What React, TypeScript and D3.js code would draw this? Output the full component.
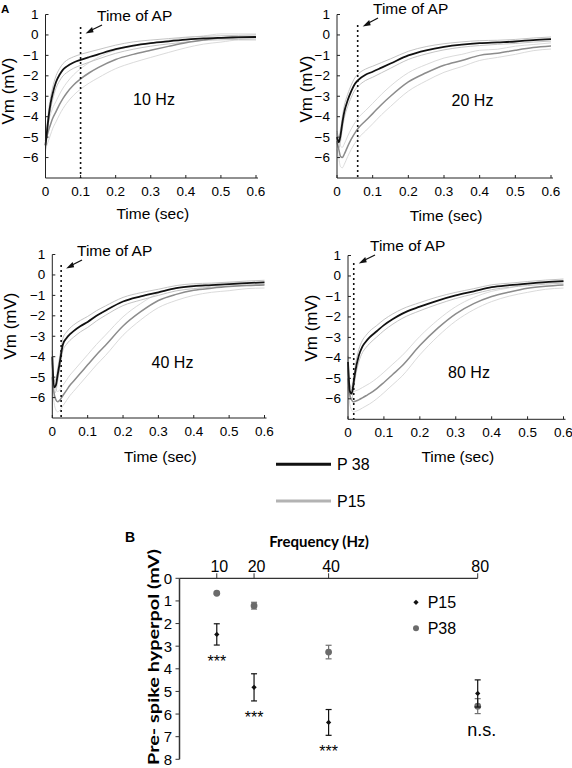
import React from "react";
import * as d3 from "d3";

// ---------- Panel A data ----------
const time = [0, 0.005, 0.01, 0.015, 0.02, 0.03, 0.04, 0.05, 0.06, 0.08, 0.1, 0.125, 0.15, 0.2, 0.25, 0.3, 0.35, 0.4, 0.45, 0.5, 0.55, 0.6];

const p38_10Hz = [-5.4, -4.6, -3.85, -3.3, -2.9, -2.3, -1.95, -1.7, -1.55, -1.35, -1.22, -1.08, -0.95, -0.7, -0.52, -0.4, -0.31, -0.23, -0.17, -0.14, -0.12, -0.1];
const p15_10Hz = [-5.2, -4.9, -4.6, -4.35, -4.1, -3.75, -3.4, -3.1, -2.85, -2.45, -2.15, -1.85, -1.6, -1.2, -0.95, -0.75, -0.56, -0.38, -0.25, -0.15, -0.1, -0.1];

const p38_20Hz = [-5.0, -5.25, -4.9, -4.3, -3.8, -3.2, -2.75, -2.4, -2.2, -1.95, -1.8, -1.6, -1.4, -1.0, -0.75, -0.58, -0.47, -0.4, -0.36, -0.32, -0.25, -0.2];
const p15_20Hz = [-5.2, -5.6, -5.95, -6.0, -5.85, -5.45, -5.1, -4.8, -4.55, -4.2, -3.85, -3.4, -3.0, -2.3, -1.85, -1.48, -1.25, -1.0, -0.9, -0.75, -0.62, -0.54];

const p38_40Hz = [-4.0, -5.5, -5.4, -4.9, -4.4, -3.4, -3.1, -2.9, -2.75, -2.5, -2.3, -2.0, -1.75, -1.3, -1.05, -0.85, -0.65, -0.55, -0.5, -0.45, -0.4, -0.36];
const p15_40Hz = [-5.0, -5.8, -6.1, -6.2, -6.15, -5.9, -5.65, -5.4, -5.2, -4.8, -4.4, -3.9, -3.45, -2.5, -1.8, -1.25, -0.95, -0.75, -0.65, -0.57, -0.52, -0.49];

const p38_80Hz = [-4.2, -5.6, -5.75, -5.3, -4.7, -3.9, -3.45, -3.2, -3.0, -2.7, -2.4, -2.1, -1.85, -1.5, -1.2, -0.95, -0.75, -0.55, -0.45, -0.37, -0.3, -0.25];
const p15_80Hz = [-5.0, -5.8, -6.05, -6.15, -6.12, -6.05, -5.95, -5.85, -5.75, -5.5, -5.2, -4.8, -4.4, -3.4, -2.55, -1.85, -1.35, -1.0, -0.78, -0.6, -0.5, -0.44];

const p38Sem = [0.3, 0.3, 0.3, 0.3, 0.3, 0.3, 0.3, 0.3, 0.3, 0.28, 0.27, 0.25, 0.23, 0.2, 0.18, 0.15, 0.13, 0.12, 0.1, 0.1, 0.1, 0.1];
const p15Sem = [0.4, 0.45, 0.5, 0.5, 0.5, 0.5, 0.5, 0.5, 0.5, 0.5, 0.5, 0.5, 0.5, 0.45, 0.4, 0.35, 0.3, 0.25, 0.2, 0.2, 0.15, 0.15];

const apTimes = [0.1, 0.058, 0.025, 0.016];
const freqLabels = ["10 Hz", "20 Hz", "40 Hz", "80 Hz"];
const timeTicks = [0, 0.1, 0.2, 0.3, 0.4, 0.5, 0.6];
const vmTicks = [1, 0, -1, -2, -3, -4, -5, -6];

// ---------- Panel B data ----------
const freqs = [10, 20, 40, 80];
const p15Hyper = [2.48, 4.82, 6.37, 5.09];
const p15Err = [0.47, 0.6, 0.57, 0.6];
const p38Hyper = [0.66, 1.21, 3.26, 5.65];
const p38Err = [0.05, 0.15, 0.3, 0.33];
const sigLabels = ["***", "***", "***", "n.s."];
const hyperTicks = [0, 1, 2, 3, 4, 5, 6, 7, 8];

const panelsData = [
  { p38: p38_10Hz, p15: p15_10Hz, ap: apTimes[0], label: freqLabels[0] },
  { p38: p38_20Hz, p15: p15_20Hz, ap: apTimes[1], label: freqLabels[1] },
  { p38: p38_40Hz, p15: p15_40Hz, ap: apTimes[2], label: freqLabels[2] },
  { p38: p38_80Hz, p15: p15_80Hz, ap: apTimes[3], label: freqLabels[3] },
];

const layouts = [
  { x: [45.5, 256], y: [178, 14.5], apTop: 27, titleY: 213.5, vmX: 8.5, vmY: 91, hz: [154, 99], ann: [97, 15] },
  { x: [337, 551], y: [178, 14.5], apTop: 25, titleY: 215, vmX: 306.5, vmY: 89, hz: [472.5, 100], ann: [373, 8] },
  { x: [52.3, 264.5], y: [418, 254.5], apTop: 265, titleY: 456.7, vmX: 10, vmY: 326, hz: [172.5, 362], ann: [77, 250] },
  { x: [348, 563.5], y: [419.3, 255.5], apTop: 263, titleY: 456.7, vmX: 311, vmY: 328, hz: [469, 372], ann: [370, 245] },
];

const FONT = "'Liberation Sans', Arial, sans-serif";

function Panel({ d, L }: any) {
  const xs = d3.scaleLinear().domain([0, 0.6]).range(L.x);
  const ys = d3.scaleLinear().domain([-7, 1]).range(L.y);
  const mk = (vals: number[], off: number[] | null, sign: number) =>
    d3
      .line<number>()
      .x((_, i) => xs(time[i]))
      .y((v, i) => ys(v + (off ? sign * off[i] : 0)))
      .curve(d3.curveMonotoneX)(vals) as string;
  const x0 = L.x[0];
  const yb = L.y[0];
  const apx = xs(d.ap);
  return (
    <g fontFamily={FONT}>
      <path d={mk(d.p15, p15Sem, 1)} fill="none" stroke="#d6d6d6" strokeWidth={0.9} />
      <path d={mk(d.p15, p15Sem, -1)} fill="none" stroke="#d6d6d6" strokeWidth={0.9} />
      <path d={mk(d.p38, p38Sem, 1)} fill="none" stroke="#bdbdbd" strokeWidth={0.9} />
      <path d={mk(d.p38, p38Sem, -1)} fill="none" stroke="#bdbdbd" strokeWidth={0.9} />
      <path d={mk(d.p15, null, 1)} fill="none" stroke="#8c8c8c" strokeWidth={1.5} />
      <path d={mk(d.p38, null, 1)} fill="none" stroke="#111" strokeWidth={1.8} />
      <line x1={x0} x2={L.x[1] + 2} y1={yb} y2={yb} stroke="#222" strokeWidth={1} />
      <line x1={x0} x2={x0} y1={yb} y2={L.y[1]} stroke="#222" strokeWidth={1} />
      {timeTicks.map((t) => (
        <g key={"xt" + t}>
          <line x1={xs(t)} x2={xs(t)} y1={yb} y2={yb - 3} stroke="#222" />
          <text x={xs(t)} y={yb + 13.5} fontSize={13.5} textAnchor="middle" dominantBaseline="central">
            {t === 0 ? "0" : String(t)}
          </text>
        </g>
      ))}
      {vmTicks.map((v) => (
        <g key={"yt" + v}>
          <line x1={x0} x2={x0 + 3} y1={ys(v)} y2={ys(v)} stroke="#222" />
          <text x={x0 - 7} y={ys(v)} fontSize={13.5} textAnchor="end" dominantBaseline="central">
            {v < 0 ? "\u2212" + Math.abs(v) : String(v)}
          </text>
        </g>
      ))}
      <text x={(x0 + L.x[1]) / 2 + 2} y={L.titleY} fontSize={15.5} textAnchor="middle" dominantBaseline="central">
        Time (sec)
      </text>
      <text
        transform={`translate(${L.vmX},${L.vmY}) rotate(-90)`}
        fontSize={17}
        textAnchor="middle"
        dominantBaseline="central"
      >
        Vm (mV)
      </text>
      <line x1={apx} x2={apx} y1={L.apTop} y2={yb} stroke="#111" strokeWidth={1.6} strokeDasharray="2 3" />
      <text x={L.ann[0]} y={L.ann[1]} fontSize={15.5} dominantBaseline="central">
        Time of AP
      </text>
      <line x1={L.ann[0] + 5} y1={L.ann[1] + 10} x2={apx + 9} y2={L.ann[1] + 16} stroke="#111" strokeWidth={1.3} />
      <path d={`M${apx + 5},${L.ann[1] + 18.5} l6.5,-6.5 l1.5,5.2 z`} fill="#111" />
      <text x={L.hz[0]} y={L.hz[1]} fontSize={16} textAnchor="middle" dominantBaseline="central">
        {d.label}
      </text>
    </g>
  );
}

function PanelB() {
  const xs = d3.scaleLinear().domain([0, 80]).range([179.5, 477.7]);
  const ys = d3.scaleLinear().domain([0, 8]).range([578.3, 759.3]);
  const diamond = d3.symbol().type(d3.symbolSquare).size(14)() as string;
  return (
    <g fontFamily={FONT}>
      <text x={125} y={541.7} fontSize={14} fontWeight="bold">B</text>
      <text x={319} y={541} fontSize={15} fontWeight="bold" textAnchor="middle" dominantBaseline="central" fontFamily="Lato, 'Open Sans', sans-serif">
        Frequency (Hz)
      </text>
      <text
        transform={`translate(152,549) rotate(-90)`}
        fontSize={16}
        fontWeight="bold"
        textAnchor="end"
        dominantBaseline="central"
        fontFamily="Lato, 'Open Sans', sans-serif"
        textLength={216}
        lengthAdjust="spacingAndGlyphs"
      >
        Pre- spike  hyperpol (mV)
      </text>
      <line x1={xs(0)} x2={xs(80)} y1={ys(0)} y2={ys(0)} stroke="#333" strokeWidth={1.2} />
      <line x1={xs(0)} x2={xs(0)} y1={ys(0)} y2={ys(8)} stroke="#333" strokeWidth={1.5} />
      {freqs.map((f) => (
        <g key={"bx" + f}>
          <line x1={xs(f)} x2={xs(f)} y1={ys(0)} y2={ys(0) - 5} stroke="#333" />
          <text x={xs(f) + 2.5} y={566} fontSize={16} textAnchor="middle" dominantBaseline="central">
            {f}
          </text>
        </g>
      ))}
      {hyperTicks.map((v) => (
        <g key={"by" + v}>
          <line x1={xs(0) - 4} x2={xs(0)} y1={ys(v)} y2={ys(v)} stroke="#333" />
          <text x={172} y={ys(v)} fontSize={15} textAnchor="end" dominantBaseline="central">
            {v}
          </text>
        </g>
      ))}
      {freqs.map((f, i) => (
        <g key={"p38" + f}>
          <line x1={xs(f)} x2={xs(f)} y1={ys(p38Hyper[i] - p38Err[i])} y2={ys(p38Hyper[i] + p38Err[i])} stroke="#707070" strokeWidth={1.2} />
          <line x1={xs(f) - 3} x2={xs(f) + 3} y1={ys(p38Hyper[i] - p38Err[i])} y2={ys(p38Hyper[i] - p38Err[i])} stroke="#707070" strokeWidth={1.2} />
          <line x1={xs(f) - 3} x2={xs(f) + 3} y1={ys(p38Hyper[i] + p38Err[i])} y2={ys(p38Hyper[i] + p38Err[i])} stroke="#707070" strokeWidth={1.2} />
          <circle cx={xs(f)} cy={ys(p38Hyper[i])} r={3.4} fill="#6b6b6b" />
        </g>
      ))}
      {freqs.map((f, i) => (
        <g key={"p15" + f}>
          <line x1={xs(f)} x2={xs(f)} y1={ys(p15Hyper[i] - p15Err[i])} y2={ys(p15Hyper[i] + p15Err[i])} stroke="#111" strokeWidth={1.2} />
          <line x1={xs(f) - 3} x2={xs(f) + 3} y1={ys(p15Hyper[i] - p15Err[i])} y2={ys(p15Hyper[i] - p15Err[i])} stroke="#111" strokeWidth={1.2} />
          <line x1={xs(f) - 3} x2={xs(f) + 3} y1={ys(p15Hyper[i] + p15Err[i])} y2={ys(p15Hyper[i] + p15Err[i])} stroke="#111" strokeWidth={1.2} />
          <path d={diamond} transform={`translate(${xs(f)},${ys(p15Hyper[i])}) rotate(45)`} fill="#111" />
        </g>
      ))}
      {freqs.map((f, i) => {
        const low = Math.max(p15Hyper[i] + p15Err[i], p38Hyper[i] + p38Err[i]);
        const isStar = sigLabels[i] === "***";
        return (
          <text key={"sig" + f} x={xs(f) + (isStar ? 0 : 4)} y={ys(low) + (isStar ? 22 : 22.5)} fontSize={isStar ? 16 : 18} textAnchor="middle">
            {sigLabels[i]}
          </text>
        );
      })}
      <path d={diamond} transform="translate(416,602.3) rotate(45)" fill="#111" />
      <text x={427.7} y={602.3} fontSize={16} dominantBaseline="central">P15</text>
      <circle cx={416} cy={628.3} r={3} fill="#6b6b6b" />
      <text x={427.7} y={628.3} fontSize={16} dominantBaseline="central">P38</text>
    </g>
  );
}

export default function App() {
  return (
    <svg width={572} height={768} style={{ position: "absolute", left: 0, top: 0, background: "#fff" }}>
      <rect width={572} height={768} fill="#fff" />
      <text x={1} y={12.7} fontSize={11.5} fontWeight="bold" fontFamily={FONT}>A</text>
      {panelsData.map((d, i) => (
        <Panel key={i} d={d} L={layouts[i]} />
      ))}
      <g fontFamily={FONT}>
        <line x1={276} x2={331} y1={464.3} y2={464.3} stroke="#111" strokeWidth={3} />
        <text x={337} y={464.3} fontSize={16} dominantBaseline="central">P 38</text>
        <line x1={276} x2={331} y1={501} y2={501} stroke="#b3b3b3" strokeWidth={3} />
        <text x={337} y={501} fontSize={16} dominantBaseline="central">P15</text>
      </g>
      <PanelB />
    </svg>
  );
}
